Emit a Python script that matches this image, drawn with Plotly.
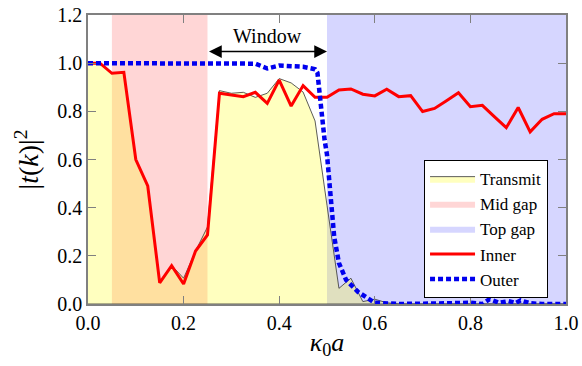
import plotly.graph_objects as go

# ---- data ----
k_grid = [round(i * 0.025, 3) for i in range(41)]
inner = [1.0, 1.0, 0.958, 0.962, 0.60, 0.49, 0.088, 0.159, 0.083, 0.22, 0.287,
         0.875, 0.868, 0.861, 0.879, 0.833, 0.930, 0.822, 0.907, 0.858, 0.858,
         0.889, 0.893, 0.871, 0.864, 0.892, 0.861, 0.865, 0.799, 0.812, 0.844,
         0.877, 0.819, 0.825, 0.778, 0.732, 0.816, 0.715, 0.767, 0.79, 0.79]
transmit = [1.0, 1.0, 0.96, 0.962, 0.60, 0.49, 0.09, 0.16, 0.107, 0.22, 0.32,
            0.886, 0.875, 0.879, 0.858, 0.875, 0.936, 0.918, 0.88, 0.76, 0.41,
            0.065, 0.107, 0.01, 0.02, 0.005, 0.0, 0.0, 0.0, 0.0, 0.0,
            0.0, 0.0, 0.0, 0.0, 0.0, 0.0, 0.0, 0.0, 0.0, 0.0]
outer_k = [0.0, 0.3, 0.35, 0.375, 0.4, 0.45, 0.475, 0.48, 0.485, 0.49, 0.495,
           0.5, 0.505, 0.51, 0.515, 0.525, 0.54, 0.565, 0.59, 0.6, 0.65, 0.7,
           0.75, 0.8, 0.825, 0.84, 0.86, 0.88, 0.895, 0.905, 0.925, 0.95, 1.0]
outer = [1.0, 1.0, 0.998, 0.978, 0.99, 0.985, 0.975, 0.96, 0.85, 0.74, 0.68,
         0.62, 0.49, 0.36, 0.28, 0.17, 0.10, 0.05, 0.015, 0.005, 0.0, 0.0,
         0.003, 0.005, 0.0, 0.02, 0.005, 0.012, 0.004, 0.015, 0.003, 0.0, 0.0]
mid_gap = [0.05, 0.25]
top_gap = [0.5, 1.0]
window = [0.25, 0.5]
y_max = 1.2
x_ticks = [0.0, 0.2, 0.4, 0.6, 0.8, 1.0]
y_ticks = [0.0, 0.2, 0.4, 0.6, 0.8, 1.0, 1.2]

FONT = "Liberation Serif"
fig = go.Figure()


def rect(span):
    return ([span[0], span[1], span[1], span[0], span[0]],
            [0, 0, y_max, y_max, 0])


for name, span, col, rank in [("Mid gap", mid_gap, "rgba(255,0,0,0.16)", 2),
                               ("Top gap", top_gap, "rgba(0,0,255,0.16)", 3)]:
    rx, ry = rect(span)
    fig.add_trace(go.Scatter(x=rx, y=ry, mode="lines", fill="toself",
                             fillcolor=col, line=dict(width=0, color=col),
                             name=name, legendrank=rank, hoverinfo="skip"))

# transmit area closed down to the baseline
tx = k_grid + [k_grid[-1], k_grid[0]]
ty = transmit + [0.0, 0.0]
fig.add_trace(go.Scatter(x=tx, y=ty, mode="lines", fill="toself",
                         fillcolor="rgba(255,255,0,0.25)",
                         line=dict(color="#333333", width=0.8),
                         name="Transmit", legendrank=1))
fig.add_trace(go.Scatter(x=k_grid, y=inner, mode="lines",
                         line=dict(color="#ff0000", width=3),
                         name="Inner", legendrank=4))
fig.add_trace(go.Scatter(x=outer_k, y=outer, mode="lines",
                         line=dict(color="#0000ee", width=4.5, dash="5px,3px"),
                         name="Outer", legendrank=5))

fig.add_annotation(x=window[1], y=1.048, ax=window[0], ay=1.048,
                   xref="x", yref="y", axref="x", ayref="y", text="",
                   showarrow=True, arrowhead=2, arrowside="end+start",
                   arrowsize=1.7, arrowwidth=1.5, arrowcolor="black",
                   standoff=0, startstandoff=0)
fig.add_annotation(x=sum(window) / 2, y=1.112, xref="x", yref="y",
                   text="Window", showarrow=False,
                   font=dict(family=FONT, size=20, color="black"))

axis_common = dict(showline=True, linecolor="#808080", linewidth=1.5,
                   mirror="ticks", ticks="inside", ticklen=8, tickwidth=1.3,
                   tickcolor="#808080", showgrid=False, zeroline=False,
                   automargin=False,
                   tickfont=dict(family=FONT, size=20, color="black"),
                   tickformat=".1f")
fig.update_xaxes(range=[0, 1], tickvals=x_ticks,
                 title=dict(text="<i>κ</i><sub>0</sub><i>a</i>",
                            font=dict(family=FONT, size=26, color="black"),
                            standoff=0),
                 **axis_common)
fig.update_yaxes(range=[0, y_max], tickvals=y_ticks,
                 title=dict(text="|<i>t</i>(<i>k</i>)|<sup>2</sup>",
                            font=dict(family=FONT, size=28, color="black"),
                            standoff=10),
                 **axis_common)

fig.update_layout(
    width=582, height=366,
    margin=dict(l=88, r=16, t=15, b=62),
    plot_bgcolor="white", paper_bgcolor="white",
    showlegend=True,
    legend=dict(x=0.703, y=0.498, xanchor="left", yanchor="top",
                bgcolor="white", bordercolor="black", borderwidth=1,
                font=dict(family=FONT, size=17, color="black"),
                itemwidth=45, tracegroupgap=0),
)

fig.write_html("out.html",
               config={"displayModeBar": False},
               post_script="document.body.style.margin='0';")
